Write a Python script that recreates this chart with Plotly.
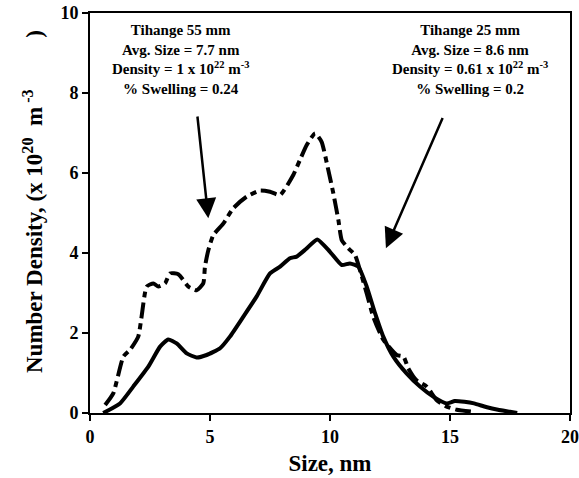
import plotly.graph_objects as go

# Tihange 25 mm (solid)
size_25 = [0.55, 1.25, 1.8, 2.43, 2.92, 3.26, 3.61, 4.03, 4.44, 4.86, 5.42, 5.83, 6.39, 6.94,
           7.5, 7.92, 8.33, 8.61, 9.0, 9.47, 10.0, 10.49, 10.83, 11.18, 11.53, 11.88, 12.22,
           12.64, 13.19, 13.75, 14.3, 14.86, 15.2, 15.6, 16.0, 16.5, 17.0, 17.5, 17.8]
dens_25 = [0.0, 0.24, 0.66, 1.16, 1.66, 1.84, 1.74, 1.49, 1.39, 1.45, 1.62, 1.91, 2.41, 2.91,
           3.49, 3.66, 3.87, 3.91, 4.1, 4.34, 4.03, 3.7, 3.74, 3.66, 3.16, 2.49, 1.91,
           1.41, 0.99, 0.66, 0.41, 0.24, 0.3, 0.28, 0.24, 0.15, 0.08, 0.03, 0.0]

# Tihange 55 mm (dashed)
size_55 = [0.63, 0.97, 1.39, 1.67, 2.01, 2.15, 2.36, 2.64, 2.85, 3.13, 3.33, 3.68, 4.1, 4.44,
           4.72, 4.79, 4.93, 5.14, 5.56, 5.97, 6.53, 7.08, 7.5, 7.92, 8.47, 8.75, 9.03, 9.38,
           9.65, 9.93, 10.14, 10.35, 10.49, 10.76, 11.04, 11.25, 11.53, 11.8, 12.22, 12.78,
           13.06, 13.26, 13.6, 14.03, 14.45, 14.86, 15.28, 15.97]
dens_55 = [0.2, 0.49, 1.41, 1.58, 1.91, 2.41, 3.16, 3.24, 3.16, 3.24, 3.49, 3.47, 3.16, 3.07,
           3.24, 3.66, 4.07, 4.45, 4.74, 5.12, 5.41, 5.56, 5.53, 5.45, 5.95, 6.33, 6.7, 6.99,
           6.78, 6.07, 5.49, 4.82, 4.32, 4.12, 3.95, 3.57, 2.99, 2.41, 1.83, 1.45,
           1.41, 1.12, 0.82, 0.66, 0.32, 0.16, 0.08, 0.03]

x_ticks = [0, 5, 10, 15, 20]
y_ticks = [0, 2, 4, 6, 8, 10]

label_55 = ("Tihange 55 mm<br>Avg. Size = 7.7 nm<br>Density = 1 x 10<sup>22</sup> m<sup>-3</sup>"
            "<br>% Swelling = 0.24")
label_25 = ("Tihange 25 mm<br>Avg. Size = 8.6 nm<br>Density = 0.61 x 10<sup>22</sup> m<sup>-3</sup>"
            "<br>% Swelling = 0.2")
y_title = ("&nbsp;&nbsp;&nbsp;&nbsp;Number Density, (x 10<sup>20</sup>&nbsp; m<sup>&nbsp;-3</sup>"
           + "&nbsp;" * 9 + ")")

FONT = "Liberation Serif"

fig = go.Figure()
fig.add_trace(go.Scatter(x=size_55, y=dens_55, mode="lines",
                         line=dict(color="black", width=4, dash="16px,5px,6px,5px",
                                   shape="spline", smoothing=0.5),
                         showlegend=False))
fig.add_trace(go.Scatter(x=size_25, y=dens_25, mode="lines",
                         line=dict(color="black", width=4, shape="spline", smoothing=0.5),
                         showlegend=False))

txtfont = dict(family=FONT, size=15, color="black", weight="bold")
fig.add_annotation(x=3.75, y=8.83, xref="x", yref="y", text=label_55, showarrow=False,
                   font=txtfont, align="center", xanchor="center", yanchor="middle")
fig.add_annotation(x=15.83, y=8.83, xref="x", yref="y", text=label_25, showarrow=False,
                   font=txtfont, align="center", xanchor="center", yanchor="middle")

# arrows
fig.add_annotation(x=4.93, y=4.87, ax=4.47, ay=7.45, xref="x", yref="y", axref="x", ayref="y",
                   text="", showarrow=True, arrowhead=2, arrowsize=1.6, arrowwidth=2.5,
                   arrowcolor="black")
fig.add_annotation(x=12.33, y=4.12, ax=14.72, ay=7.41, xref="x", yref="y", axref="x", ayref="y",
                   text="", showarrow=True, arrowhead=2, arrowsize=1.6, arrowwidth=2.5,
                   arrowcolor="black")

tickfont = dict(family=FONT, size=18, color="black", weight="bold")
fig.update_layout(
    width=579, height=478,
    margin=dict(l=90, r=9, t=13, b=65, autoexpand=False),
    paper_bgcolor="white", plot_bgcolor="white",
    xaxis=dict(range=[0, 20], tickvals=x_ticks, ticktext=[str(v) for v in x_ticks],
               showgrid=False, zeroline=False, showline=True, linecolor="black", linewidth=2,
               mirror=True, ticks="outside", ticklen=6, tickwidth=1.5, tickcolor="black",
               tickfont=tickfont, automargin=False,
               title=dict(text="Size, nm", standoff=9,
                          font=dict(family=FONT, size=23, color="black", weight="bold"))),
    yaxis=dict(range=[0, 10], tickvals=y_ticks, ticktext=[str(v) for v in y_ticks],
               showgrid=False, zeroline=False, showline=True, linecolor="black", linewidth=2,
               mirror=True, ticks="outside", ticklen=6, tickwidth=1.5, tickcolor="black",
               tickfont=tickfont, automargin=False,
               title=dict(text=y_title, standoff=11,
                          font=dict(family=FONT, size=23, color="black", weight="bold"))),
)

fig.write_html("out.html", config={"displayModeBar": False},
               post_script="document.body.style.margin='0';")
